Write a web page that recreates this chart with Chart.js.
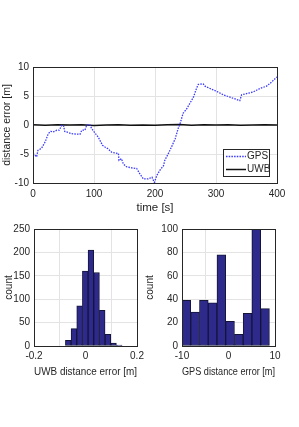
<!DOCTYPE html>
<html>
<head>
<meta charset="utf-8">
<script src="https://cdn.jsdelivr.net/npm/chart.js@4"></script>
<style>
  body { margin: 0; background: #fff; }
  #wrap { position: relative; width: 299px; height: 427px; }
  canvas { position: absolute; }
</style>
</head>
<body>
<div id="wrap">
  <canvas id="top" style="left:0;top:40px" width="299" height="177"></canvas>
  <canvas id="uwb" style="left:0;top:215px" width="150" height="165"></canvas>
  <canvas id="gps" style="left:140px;top:215px" width="159" height="165"></canvas>
</div>
<script>
// time series
const gpsTime = [0, 6, 8, 14, 20, 25, 29, 33, 39, 43, 47, 50, 52, 58, 63, 69, 77, 80, 85, 88, 93, 96, 101, 107, 111, 114, 118, 123, 129, 134, 140, 141, 145, 148, 153, 162, 170, 175, 181, 189, 195, 199, 203, 208, 214, 216, 222, 227, 233, 238, 241, 246, 252, 257, 263, 266, 268, 271, 279, 282, 290, 301, 312, 323, 334, 339, 342, 350, 361, 372, 383, 391, 400]
const gpsError = [-4.9, -5.5, -4.4, -4.0, -2.9, -1.5, -1.1, -1.2, -0.9, -0.9, -0.06, -0.1, -1.1, -1.3, -1.5, -1.55, -1.6, -0.9, -0.9, -0.05, 0.1, -0.6, -1.3, -2.1, -2.9, -3.5, -3.8, -4.1, -4.7, -4.8, -4.9, -6.1, -5.8, -6.7, -7.2, -7.4, -7.5, -8.4, -9.3, -9.3, -9.0, -9.9, -8.7, -7.8, -7.0, -6.1, -4.9, -3.8, -2.4, -0.6, 0.2, 2.0, 2.8, 3.7, 4.8, 5.7, 6.3, 7.0, 7.1, 6.7, 6.3, 5.8, 5.2, 4.8, 4.4, 4.2, 5.2, 5.4, 5.7, 6.3, 6.7, 7.4, 8.3]
const uwbTime = [0, 20, 40, 60, 80, 100, 120, 140, 160, 180, 200, 220, 240, 260, 280, 300, 320, 340, 360, 380, 400]
const uwbError = [0.03, -0.05, 0.06, -0.02, 0.04, -0.07, 0.02, 0.05, -0.04, 0.01, -0.06, 0.03, 0.07, -0.03, 0.05, -0.02, 0.04, -0.05, 0.02, 0.06, 0.0]

// histograms (bin centres and counts)
const uwbBins = [-0.067, -0.045, -0.023, -0.001, 0.021, 0.043, 0.065, 0.087, 0.109, 0.131]
const uwbCounts = [12, 37, 86, 160, 205, 157, 76, 25, 6, 2]
const gpsBins = [-9.06, -7.18, -5.3, -3.42, -1.54, 0.34, 2.22, 4.1, 5.98, 7.86]
const gpsCounts = [39, 29, 39, 37, 78, 21, 10, 28, 100, 32]

const timeTicks = [0, 100, 200, 300, 400]
const errorTicks = [-10, -5, 0, 5, 10]

const family = "'Liberation Sans', Arial, sans-serif"
const tickFont = { family, size: 10 }
const ink = "#262626"
const gridColor = "#e3e3e3"

const boxPlugin = {
  id: "box",
  afterDraw(chart) {
    const a = chart.chartArea
    const ctx = chart.ctx
    ctx.save()
    ctx.strokeStyle = ink
    ctx.lineWidth = 1
    ctx.strokeRect(Math.round(a.left) + 0.5, Math.round(a.top) + 0.5, Math.round(a.right - a.left), Math.round(a.bottom - a.top))
    ctx.restore()
  }
}

const legendPlugin = {
  id: "boxLegend",
  afterDraw(chart) {
    const ctx = chart.ctx
    const a = chart.chartArea
    const x = a.right - 54, y = a.bottom - 34, w = 46, h = 27
    ctx.save()
    ctx.fillStyle = "#fff"
    ctx.fillRect(x, y, w, h)
    ctx.strokeStyle = ink
    ctx.lineWidth = 1
    ctx.strokeRect(x + 0.5, y + 0.5, w, h)
    ctx.font = "10px " + family
    ctx.textBaseline = "middle"
    chart.data.datasets.forEach((ds, i) => {
      const ly = y + 7.5 + i * 13
      ctx.strokeStyle = ds.borderColor
      ctx.lineWidth = ds.borderWidth
      ctx.setLineDash(ds.borderDash || [])
      ctx.beginPath()
      ctx.moveTo(x + 3, ly)
      ctx.lineTo(x + 23, ly)
      ctx.stroke()
      ctx.setLineDash([])
      ctx.fillStyle = ink
      ctx.fillText(ds.label, x + 24, ly)
    })
    ctx.restore()
  }
}

function axis(opts) {
  return Object.assign({
    type: "linear",
    border: { color: ink, width: 1 },
    grid: { color: gridColor, drawTicks: false },
    ticks: { font: tickFont, color: ink, padding: 4 }
  }, opts)
}

function title(text, size, padding) {
  return { display: true, text, font: { family, size }, color: ink, padding }
}

function fixedTicks(values) {
  return scale => { scale.ticks = values.map(v => ({ value: v })) }
}

new Chart(document.getElementById("top"), {
  type: "line",
  data: {
    datasets: [
      {
        label: "GPS",
        data: gpsTime.map((t, i) => ({ x: t, y: gpsError[i] })),
        borderColor: "#3a3aff",
        borderWidth: 1.3,
        borderDash: [1.5, 1.2],
        pointRadius: 0
      },
      {
        label: "UWB",
        data: uwbTime.map((t, i) => ({ x: t, y: uwbError[i] })),
        borderColor: "#111",
        borderWidth: 1.5,
        pointRadius: 0
      }
    ]
  },
  options: {
    responsive: false,
    animation: false,
    layout: { padding: { top: 27, right: 22, left: 0, bottom: 0 } },
    plugins: { legend: { display: false }, tooltip: { enabled: false } },
    scales: {
      x: axis({
        min: 0, max: 400,
        afterBuildTicks: fixedTicks(timeTicks),
        afterFit: s => { s.height = 34 },
        ticks: { font: tickFont, color: ink, padding: 5 },
        title: title("time [s]", 11.5, { top: 0, bottom: 2 })
      }),
      y: axis({
        min: -10, max: 10,
        afterBuildTicks: fixedTicks(errorTicks),
        afterFit: s => { s.width = 33 },
        title: title("distance error [m]", 10.5, { top: 1, bottom: 0 })
      })
    }
  },
  plugins: [boxPlugin, legendPlugin]
})

function histogram(id, bins, counts, xMin, xMax, xTicks, yMax, yTicks, xTitle, yWidth, rightPad, titlePad) {
  return new Chart(document.getElementById(id), {
    type: "bar",
    data: {
      datasets: [{
        data: bins.map((b, i) => ({ x: b, y: counts[i] })),
        backgroundColor: "#2d2a8c",
        borderColor: "#15153a",
        borderWidth: 1,
        borderSkipped: false,
        barPercentage: 1,
        categoryPercentage: 1
      }]
    },
    options: {
      responsive: false,
      animation: false,
      layout: { padding: { top: 14, right: rightPad, left: 0, bottom: 0 } },
      plugins: { legend: { display: false }, tooltip: { enabled: false } },
      scales: {
        x: axis({
          min: xMin, max: xMax, offset: false,
          afterBuildTicks: fixedTicks(xTicks),
          afterFit: s => { s.height = 34 },
          title: title(xTitle, 11.5, { top: 0, bottom: 1 })
        }),
        y: axis({
          min: 0, max: yMax,
          afterBuildTicks: fixedTicks(yTicks),
          afterFit: s => { s.width = yWidth },
          title: title("count", 10, { top: titlePad, bottom: 0 })
        })
      }
    },
    plugins: [boxPlugin]
  })
}

histogram("uwb", uwbBins, uwbCounts, -0.2, 0.2, [-0.2, 0, 0.2], 250, [0, 50, 100, 150, 200, 250], "UWB distance error [m]", 34, 13, 3)
histogram("gps", gpsBins, gpsCounts, -10, 10, [-10, 0, 10], 100, [0, 20, 40, 60, 80, 100], "GPS distance error [m]", 42, 24, 4)
</script>
</body>
</html>
